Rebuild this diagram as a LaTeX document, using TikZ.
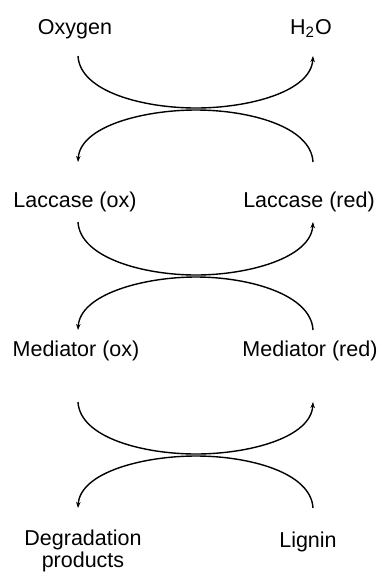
\documentclass[tikz,border=0pt]{standalone}
\usepackage{fontspec}
\setmainfont{Liberation Sans}
\usetikzlibrary{arrows.meta}
\begin{document}
\begin{tikzpicture}[x=0.5pt,y=-0.5pt,
  lbl/.style={font=\fontsize{10.75}{10}\selectfont, inner sep=0pt, anchor=base},
  arc/.style={line width=0.7pt, -{Stealth[length=3pt,width=2.2pt]}}]
\useasboundingbox (0,0) rectangle (380,575);
% labels
\node[lbl] (oxy)   at (75,34)  {Oxygen};
\node[lbl] (wat)   at (311,34) {H\textsubscript{2}O};
\node[lbl] (laox)  at (75,207) {Laccase (ox)};
\node[lbl] (lared) at (309,207) {Laccase (red)};
\node[lbl] (meox)  at (76,356) {Mediator (ox)};
\node[lbl] (mered) at (310,356) {Mediator (red)};
\node[lbl, anchor=north, align=center] (deg) at (83,530) {Degradation\\[-0.5pt]products};
\node[lbl] (lig)   at (308,547) {Lignin};
% cycles: top y / bottom y of the arc ends
\foreach \i/\ya/\yb in {1/56/162, 2/222/330, 3/402/508}{
  \pgfmathsetmacro\yu{(\ya+\yb)/2-1}
  \pgfmathsetmacro\yl{(\ya+\yb)/2+1}
  \coordinate (c\i tl) at (78,\ya);  \coordinate (c\i tr) at (313,\ya);
  \coordinate (c\i br) at (313,\yb); \coordinate (c\i bl) at (78,\yb);
  \coordinate (c\i mu) at (196,\yu); \coordinate (c\i ml) at (196,\yl);
  \draw[arc] (c\i tl) .. controls +(2,36) and +(-52,0) .. (c\i mu)
     .. controls +(52,0) and +(-2,36) .. (c\i tr);
  \draw[arc] (c\i br) .. controls +(-2,-36) and +(52,0) .. (c\i ml)
     .. controls +(-52,0) and +(2,-36) .. (c\i bl);
}
\end{tikzpicture}
\end{document}
